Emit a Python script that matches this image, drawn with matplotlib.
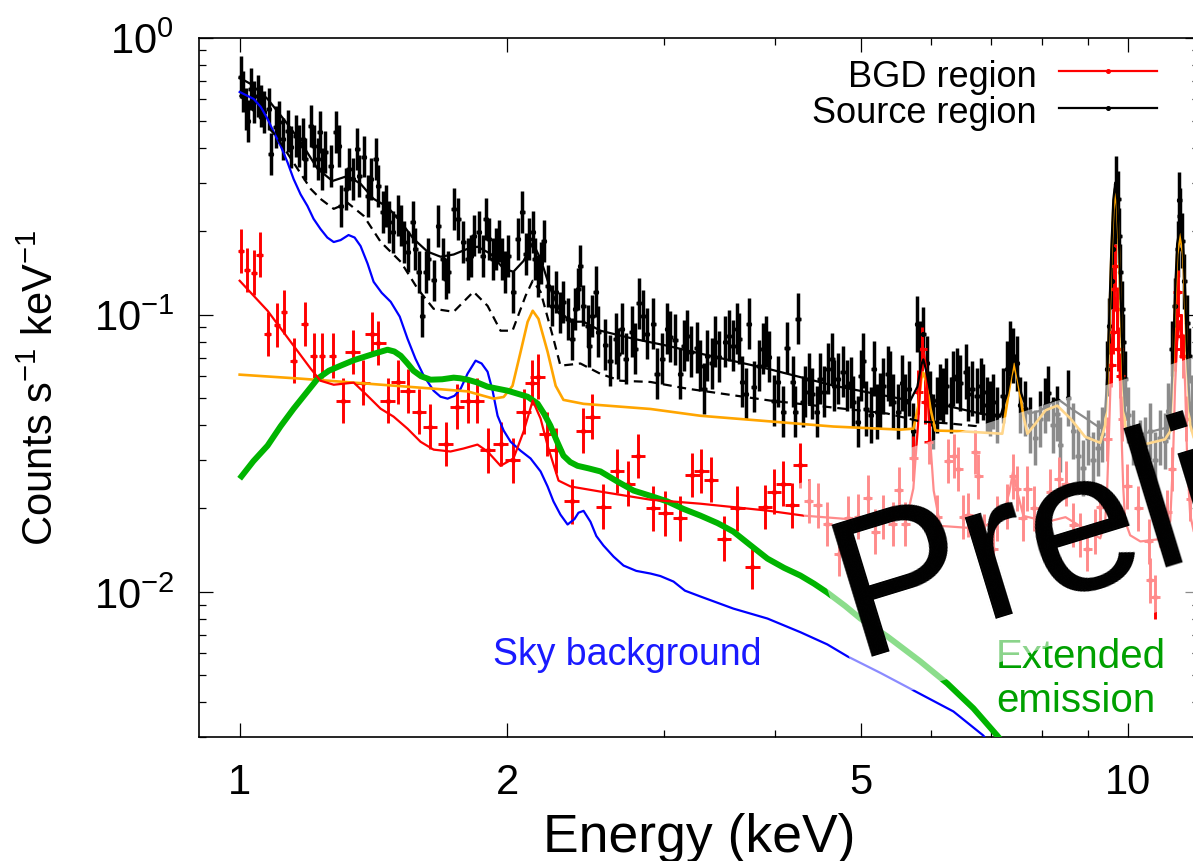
import numpy as np
import matplotlib
matplotlib.use("Agg")
import matplotlib.pyplot as plt
from matplotlib.patches import Polygon
from matplotlib.lines import Line2D
from matplotlib.ticker import FixedLocator, FixedFormatter, NullFormatter

plt.rcParams['font.family'] = ['Liberation Sans', 'DejaVu Sans']
plt.rcParams['mathtext.fontset'] = 'custom'
plt.rcParams['mathtext.rm'] = 'Liberation Sans'
plt.rcParams['mathtext.it'] = 'Liberation Sans:italic'
plt.rcParams['mathtext.bf'] = 'Liberation Sans:bold'

# ---------------- data (energy in keV, counts s^-1 keV^-1) ----------------
src_E = [1.003, 1.008, 1.016, 1.021, 1.029, 1.037, 1.048, 1.056, 1.064, 1.078,
         1.084, 1.098, 1.106, 1.118, 1.132, 1.141, 1.156, 1.165, 1.177, 1.186,
         1.202, 1.211, 1.224, 1.230, 1.239, 1.249, 1.266, 1.282, 1.292, 1.299,
         1.316, 1.326, 1.340, 1.357, 1.363, 1.379, 1.393, 1.404, 1.422, 1.433,
         1.448, 1.460, 1.471, 1.487, 1.506, 1.518, 1.530, 1.545, 1.565, 1.577,
         1.590, 1.606, 1.619, 1.631, 1.653, 1.674, 1.692, 1.705, 1.718, 1.741,
         1.761, 1.786, 1.805, 1.819, 1.833, 1.857, 1.877, 1.891, 1.906, 1.926,
         1.941, 1.956, 1.976, 1.991, 2.007, 2.033, 2.055, 2.081, 2.098, 2.114,
         2.137, 2.148, 2.164, 2.181, 2.198, 2.221, 2.249, 2.268, 2.296, 2.314,
         2.339, 2.369, 2.387, 2.406, 2.418, 2.437, 2.463, 2.475, 2.495, 2.515,
         2.534, 2.58, 2.61, 2.65, 2.665, 2.691, 2.719, 2.762, 2.788, 2.811,
         2.847, 2.87, 2.92, 2.95, 2.99, 3.03, 3.053, 3.09, 3.133, 3.16,
         3.19, 3.22, 3.27, 3.30, 3.33, 3.36, 3.40, 3.43, 3.46, 3.52,
         3.55, 3.59, 3.63, 3.65, 3.68, 3.71, 3.74, 3.79, 3.84, 3.88,
         3.91, 3.94, 3.99, 4.03, 4.09, 4.13, 4.19, 4.22, 4.25, 4.30,
         4.33, 4.37, 4.41, 4.46, 4.50, 4.54, 4.59, 4.64, 4.67, 4.71,
         4.77, 4.83, 4.87, 4.90, 4.96, 5.00, 5.03, 5.07, 5.13, 5.17,
         5.22, 5.26, 5.30, 5.36, 5.40, 5.44, 5.51, 5.57, 5.61, 5.66,
         5.73, 5.79, 5.83, 5.88, 5.93, 5.99, 6.03, 6.10, 6.14, 6.19,
         6.24, 6.31, 6.35, 6.42, 6.47, 6.56, 6.61, 6.67, 6.76, 6.82,
         6.87, 6.93, 6.99, 7.05, 7.12, 7.22, 7.31, 7.37, 7.42, 7.49,
         7.56, 7.66, 7.76, 7.86, 7.96, 8.07, 8.13, 8.22, 8.32, 8.39,
         8.56, 8.67, 8.78, 8.89, 9.01, 9.13, 9.25, 9.35, 9.47, 9.52,
         9.60, 9.62, 9.67, 9.70, 9.74, 9.77, 9.80, 9.85, 9.87, 9.92,
         9.99, 10.12, 10.32, 10.45, 10.59, 10.72, 10.86, 11.01, 11.09, 11.20,
         11.29, 11.37, 11.42, 11.44, 11.50, 11.56, 11.65, 11.71, 11.80, 11.90]
src_C = [0.72, 0.64, 0.553, 0.50, 0.653, 0.586, 0.616, 0.567, 0.539, 0.553,
         0.381, 0.477, 0.497, 0.431, 0.461, 0.404, 0.442, 0.407, 0.431, 0.365,
         0.480, 0.407, 0.365, 0.457, 0.336, 0.387, 0.344, 0.457, 0.407, 0.247,
         0.285, 0.336, 0.309, 0.397, 0.317, 0.372, 0.268, 0.309, 0.365, 0.292,
         0.235, 0.247, 0.216, 0.199, 0.228, 0.210, 0.183, 0.169, 0.216, 0.173,
         0.143, 0.099, 0.143, 0.159, 0.133, 0.209, 0.159, 0.135, 0.143, 0.241,
         0.222, 0.183, 0.159, 0.163, 0.193, 0.199, 0.163, 0.222, 0.188, 0.159,
         0.173, 0.185, 0.159, 0.143, 0.163, 0.121, 0.188, 0.235, 0.166, 0.188,
         0.199, 0.159, 0.138, 0.154, 0.185, 0.127, 0.108, 0.121, 0.102, 0.111,
         0.0967, 0.0819, 0.105, 0.124, 0.150, 0.108, 0.0912, 0.0772, 0.0991, 0.121,
         0.0868, 0.078, 0.0683, 0.0819, 0.0722, 0.089, 0.0694, 0.0868, 0.0754, 0.110,
         0.0991, 0.0854, 0.0927, 0.0613, 0.0694, 0.089, 0.0833, 0.0811, 0.0613, 0.0772,
         0.0840, 0.0735, 0.0760, 0.0655, 0.0541, 0.0712, 0.0667, 0.0799, 0.0706, 0.0799,
         0.0840, 0.0772, 0.089, 0.0819, 0.0573, 0.0519, 0.0927, 0.0550, 0.0655, 0.0754,
         0.0799, 0.0706, 0.0490, 0.0573, 0.0447, 0.0760, 0.0573, 0.0447, 0.0967, 0.0486,
         0.0527, 0.0588, 0.0519, 0.0447, 0.0588, 0.0527, 0.0639, 0.0694, 0.0554, 0.0588,
         0.0623, 0.0554, 0.0568, 0.0486, 0.0411, 0.0603, 0.0683, 0.0458, 0.0434, 0.0639,
         0.0447, 0.0490, 0.0554, 0.0613, 0.0588, 0.0486, 0.0447, 0.0568, 0.0486, 0.0541,
         0.0382, 0.0927, 0.0754, 0.085, 0.0667, 0.0498, 0.0411, 0.0472, 0.0527, 0.0510,
         0.0554, 0.0472, 0.0588, 0.0603, 0.0568, 0.0623, 0.0519, 0.0541, 0.0510, 0.0554,
         0.0527, 0.0472, 0.0458, 0.0486, 0.0434, 0.0510, 0.0639, 0.0754, 0.0712, 0.0667,
         0.0472, 0.0458, 0.040, 0.036, 0.042, 0.047, 0.052, 0.040, 0.044, 0.034,
         0.050, 0.038, 0.031, 0.028, 0.036, 0.030, 0.033, 0.037, 0.0639, 0.0912,
         0.132, 0.173, 0.2275, 0.296, 0.262, 0.193, 0.143, 0.105, 0.080, 0.0588,
         0.0434, 0.036, 0.033, 0.034, 0.038, 0.030, 0.036, 0.035, 0.045, 0.0754,
         0.108, 0.173, 0.26, 0.2275, 0.185, 0.132, 0.0935, 0.0712, 0.048, 0.040]

bgd_E = [1.003, 1.019, 1.037, 1.053, 1.075, 1.101, 1.121, 1.150, 1.183, 1.211,
         1.239, 1.272, 1.306, 1.340, 1.375, 1.408, 1.433, 1.467, 1.506, 1.545,
         1.590, 1.636, 1.705, 1.757, 1.805, 1.848, 1.901, 1.966, 2.028, 2.087,
         2.131, 2.164, 2.215, 2.268, 2.363, 2.437, 2.495, 2.567, 2.661, 2.732,
         2.81, 2.92, 3.014, 3.133, 3.233, 3.309, 3.395, 3.511, 3.632, 3.776,
         3.905, 3.997, 4.092, 4.188, 4.276, 4.367, 4.47, 4.585, 4.72, 4.84,
         4.97, 5.09, 5.19, 5.30, 5.43, 5.52, 5.61, 5.731, 5.805, 5.864,
         5.91, 5.96, 6.10, 6.27, 6.36, 6.44, 6.52, 6.61, 6.73, 6.78,
         6.89, 7.05, 7.12, 7.31, 7.42, 7.49, 7.61, 7.70, 7.84, 8.00,
         8.17, 8.35, 8.50, 8.67, 8.83, 8.99, 9.18, 9.30, 9.47, 9.57,
         9.62, 9.64, 9.67, 9.72, 9.74, 9.80, 9.85, 9.97, 10.26, 10.54,
         10.59, 10.72, 10.86, 11.06, 11.20, 11.29, 11.35, 11.37, 11.47, 11.53,
         11.62, 11.74]
bgd_C = [0.170, 0.145, 0.142, 0.165, 0.0854, 0.092, 0.1025, 0.0683, 0.0927, 0.0712,
         0.0712, 0.0712, 0.049, 0.0735, 0.0569, 0.0854, 0.0792, 0.049, 0.0573, 0.0532,
         0.0447, 0.0395, 0.0342, 0.0466, 0.049, 0.049, 0.0324, 0.0342, 0.0298, 0.0447,
         0.0569, 0.0598, 0.0372, 0.0324, 0.0212, 0.0382, 0.0429, 0.0203, 0.0273, 0.0246,
         0.031, 0.020, 0.0192, 0.0184, 0.0264, 0.0273, 0.0254, 0.01557, 0.020, 0.01234,
         0.0202, 0.023, 0.0246, 0.0205, 0.0286, 0.0213, 0.0205, 0.0176, 0.01374, 0.0184,
         0.0187, 0.0219, 0.0165, 0.0186, 0.0176, 0.0234, 0.0176, 0.0303, 0.0527, 0.0754,
         0.0486, 0.0348, 0.0186, 0.0296, 0.031, 0.0278, 0.0186, 0.0189, 0.0319, 0.0261,
         0.0159, 0.01433, 0.0184, 0.0203, 0.0261, 0.0236, 0.0184, 0.0236, 0.020, 0.0172,
         0.023, 0.0256, 0.0246, 0.0174, 0.016, 0.01433, 0.0165, 0.0203, 0.0357, 0.066,
         0.087, 0.124, 0.150, 0.105, 0.0754, 0.0603, 0.0422, 0.024, 0.020, 0.0152,
         0.0110, 0.0096, 0.0174, 0.0194, 0.0278, 0.0754, 0.100, 0.121, 0.084, 0.071,
         0.0422, 0.0217]

# error-bar half sizes (dex), by energy band
src_err_band_top = [2.5, 5.0, 99.0]
src_err_band_dex = [0.075, 0.092, 0.1]
src_xerr_dex = 0.003
bgd_err_dex = 0.08
bgd_xerr_band_top = [1.3, 4.3, 99.0]
bgd_xerr_band_dex = [0.0035, 0.008, 0.005]

# model curves
src_model_E = [1.0, 1.029, 1.075, 1.132, 1.171, 1.224, 1.272, 1.323, 1.368, 1.415,
               1.467, 1.518, 1.569, 1.627, 1.683, 1.741, 1.805, 1.852, 1.916, 1.982,
               2.033, 2.087, 2.137, 2.181, 2.237, 2.296, 2.357, 2.438, 2.547, 2.775,
               3.029, 3.30, 3.926, 4.658, 5.54, 5.685, 5.79, 5.85, 5.88, 5.93,
               5.99, 6.098, 6.815, 7.178, 7.31, 7.44, 7.58, 7.72, 7.96, 8.32,
               8.61, 8.94, 9.30, 9.42, 9.47, 9.52, 9.57, 9.62, 9.67, 9.72,
               9.77, 9.82, 9.87, 9.92, 10.05, 10.32, 11.0, 11.15, 11.23, 11.29,
               11.35, 11.44, 11.53, 11.59, 11.65, 11.74, 11.85, 12.0]
src_model_C = [0.716, 0.681, 0.601, 0.488, 0.421, 0.336, 0.304, 0.317, 0.297, 0.262,
               0.245, 0.2165, 0.188, 0.169, 0.162, 0.165, 0.173, 0.176, 0.166, 0.1465,
               0.143, 0.1565, 0.182, 0.159, 0.124, 0.1025, 0.0944, 0.0944, 0.0876, 0.0819,
               0.0773, 0.0724, 0.0639, 0.0555, 0.0498, 0.049, 0.055, 0.066, 0.069, 0.062,
               0.052, 0.0478, 0.044, 0.0429, 0.052, 0.072, 0.052, 0.044, 0.045, 0.0498,
               0.046, 0.0425, 0.039, 0.045, 0.06, 0.10, 0.17, 0.26, 0.30, 0.26,
               0.17, 0.10, 0.06, 0.045, 0.039, 0.037, 0.039, 0.042, 0.07, 0.12,
               0.18, 0.21, 0.18, 0.12, 0.07, 0.045, 0.040, 0.039]

src_dash_E = [1.0, 1.1, 1.202, 1.233, 1.276, 1.323, 1.379, 1.441, 1.518, 1.586,
              1.653, 1.741, 1.833, 1.901, 1.966, 2.028, 2.098, 2.137, 2.181, 2.255,
              2.296, 2.418, 2.547, 2.683, 2.90, 3.19, 3.956, 5.357, 5.834, 6.3, 6.815]
src_dash_C = [0.62, 0.44, 0.2847, 0.262, 0.2411, 0.2534, 0.2275, 0.1833, 0.1553, 0.1241,
              0.1051, 0.1025, 0.1211, 0.1077, 0.0876, 0.0876, 0.1171, 0.1327, 0.1211, 0.0819,
              0.0655, 0.0667, 0.0612, 0.0578, 0.0572, 0.0541, 0.049, 0.044, 0.0412, 0.0405, 0.0395]

bgd_model_E = [1.0, 1.075, 1.150, 1.202, 1.233, 1.276, 1.344, 1.393, 1.441, 1.490,
               1.545, 1.598, 1.653, 1.727, 1.786, 1.852, 1.901, 1.966, 2.033, 2.087,
               2.137, 2.181, 2.221, 2.285, 2.357, 2.547, 2.90, 3.30, 3.926, 4.310,
               5.26, 5.64, 5.73, 5.80, 5.85, 5.88, 5.92, 5.97, 6.04, 6.144,
               6.815, 7.23, 7.35, 7.42, 7.50, 7.62, 8.11, 8.50, 8.9, 9.30,
               9.42, 9.47, 9.52, 9.57, 9.62, 9.67, 9.72, 9.77, 9.82, 9.87,
               9.92, 10.05, 10.32, 10.86, 11.15, 11.23, 11.29, 11.35, 11.44, 11.53,
               11.59, 11.65, 11.74, 11.85, 12.0]
bgd_model_C = [0.1327, 0.1034, 0.0773, 0.0639, 0.0578, 0.0559, 0.0569, 0.0510, 0.0458, 0.0429,
               0.0388, 0.0348, 0.0326, 0.0321, 0.0329, 0.0340, 0.0321, 0.0285, 0.0303, 0.0379,
               0.0490, 0.0422, 0.0337, 0.0252, 0.0240, 0.0230, 0.0215, 0.0208, 0.01964, 0.01884,
               0.01793, 0.0188, 0.0236, 0.040, 0.065, 0.075, 0.065, 0.040, 0.0232, 0.0173,
               0.0169, 0.0188, 0.023, 0.0272, 0.023, 0.0188, 0.0179, 0.0186, 0.0170, 0.0156,
               0.018, 0.024, 0.04, 0.07, 0.10, 0.115, 0.10, 0.07, 0.04, 0.024,
               0.018, 0.016, 0.0152, 0.0155, 0.018, 0.03, 0.055, 0.08, 0.095, 0.08,
               0.055, 0.03, 0.019, 0.0165, 0.016]

sky_E = [1.0, 1.037, 1.056, 1.075, 1.092, 1.112, 1.132, 1.150, 1.171, 1.192,
         1.211, 1.233, 1.255, 1.276, 1.299, 1.326, 1.347, 1.368, 1.393, 1.415,
         1.445, 1.479, 1.514, 1.545, 1.577, 1.611, 1.653, 1.683, 1.714, 1.745,
         1.773, 1.805, 1.843, 1.872, 1.901, 1.926, 1.951, 1.982, 2.018, 2.071,
         2.125, 2.181, 2.221, 2.255, 2.296, 2.339, 2.381, 2.406, 2.438, 2.482,
         2.52, 2.567, 2.635, 2.704, 2.795, 2.90, 2.975, 3.078, 3.17, 3.30,
         3.594, 3.926, 4.276, 4.585, 4.83, 5.26, 5.731, 6.357, 6.869, 7.0]
sky_C = [0.637, 0.601, 0.563, 0.509, 0.457, 0.407, 0.355, 0.309, 0.272, 0.247,
         0.222, 0.204, 0.190, 0.183, 0.186, 0.194, 0.190, 0.177, 0.153, 0.1315,
         0.120, 0.1114, 0.0985, 0.0819, 0.0694, 0.0603, 0.0532, 0.0506, 0.0498, 0.051,
         0.0541, 0.0613, 0.0683, 0.0667, 0.0623, 0.0532, 0.0432, 0.0382, 0.0348, 0.0323,
         0.0303, 0.0272, 0.0240, 0.0212, 0.0190, 0.0175, 0.0183, 0.0193, 0.0196, 0.0179,
         0.0159, 0.01469, 0.0134, 0.01244, 0.0119, 0.01164, 0.0114, 0.01089, 0.0101, 0.00962,
         0.0087, 0.00801, 0.00715, 0.00646, 0.00585, 0.0051, 0.00441, 0.00370, 0.00303, 0.0028]

ext_E = [1.0, 1.036, 1.075, 1.112, 1.150, 1.187, 1.224, 1.26, 1.299, 1.345,
         1.393, 1.43, 1.467, 1.493, 1.518, 1.545, 1.569, 1.60, 1.640, 1.69,
         1.741, 1.77, 1.805, 1.85, 1.901, 2.002, 2.109, 2.164, 2.20, 2.237,
         2.275, 2.314, 2.355, 2.400, 2.47, 2.547, 2.662, 2.775, 2.90, 3.029,
         3.16, 3.30, 3.45, 3.594, 3.75, 3.926, 4.10, 4.276, 4.43, 4.585,
         4.80, 4.995, 5.357, 5.834, 6.257, 6.694, 7.12, 7.4]
ext_C = [0.0256, 0.0296, 0.0337, 0.0396, 0.0458, 0.0520, 0.0588, 0.0628, 0.0655, 0.0686,
         0.0711, 0.0730, 0.0748, 0.0737, 0.0711, 0.0667, 0.0628, 0.0600, 0.0583, 0.0585,
         0.0593, 0.0590, 0.0583, 0.0570, 0.0550, 0.0532, 0.0506, 0.0478, 0.0440, 0.0398,
         0.0350, 0.0310, 0.0294, 0.0285, 0.0279, 0.0272, 0.0250, 0.0232, 0.0222, 0.0212,
         0.0199, 0.01884, 0.0177, 0.01650, 0.0148, 0.01318, 0.0122, 0.01145, 0.0107, 0.00994,
         0.0089, 0.00801, 0.00690, 0.00561, 0.00467, 0.00380, 0.00303, 0.0026]

nxb_E = [1.0, 1.171, 1.393, 1.653, 1.805, 1.931, 1.982, 2.028, 2.071, 2.109,
         2.137, 2.169, 2.221, 2.268, 2.314, 2.438, 2.90, 3.30, 4.658, 5.54,
         5.731, 5.805, 5.85, 5.88, 5.925, 5.99, 6.066, 6.47, 7.215, 7.31,
         7.386, 7.44, 7.52, 7.62, 7.70, 7.86, 8.07, 8.32, 8.61, 8.94,
         9.30, 9.42, 9.47, 9.52, 9.57, 9.62, 9.67, 9.72, 9.77, 9.82,
         9.87, 9.92, 10.05, 10.32, 11.0, 11.15, 11.23, 11.29, 11.35, 11.44,
         11.53, 11.59, 11.65, 11.74, 11.85, 12.0]
nxb_C = [0.0608, 0.0588, 0.0564, 0.0541, 0.0529, 0.0498, 0.0505, 0.0554, 0.0735, 0.0943,
         0.1034, 0.0967, 0.0735, 0.0554, 0.0493, 0.0477, 0.0457, 0.0432, 0.0395, 0.0385,
         0.0388, 0.0470, 0.0588, 0.0618, 0.0573, 0.0458, 0.0382, 0.0380, 0.0372, 0.0486,
         0.0602, 0.0665, 0.0573, 0.0432, 0.0372, 0.0404, 0.0452, 0.0470, 0.0422, 0.0363,
         0.0345, 0.040, 0.055, 0.09, 0.16, 0.24, 0.285, 0.24, 0.16, 0.09,
         0.055, 0.040, 0.0345, 0.0338, 0.0355, 0.038, 0.065, 0.11, 0.165, 0.196,
         0.165, 0.11, 0.065, 0.040, 0.036, 0.0355]

x_major = [1, 2, 5, 10]
x_major_labels = ['1', '2', '5', '10']
x_minor = [3, 4, 6, 7, 8, 9]
y_major = [0.01, 0.1, 1.0]
y_major_labels = [r'$\mathregular{10^{-2}}$', r'$\mathregular{10^{-1}}$', r'$\mathregular{10^{0}}$']

# ---------------- figure ----------------
W, H = 1193, 862
fig = plt.figure(figsize=(W / 100, H / 100), dpi=100)
ax = fig.add_axes([199 / W, 1 - 737.7 / H, (1198.6 - 199) / W, (737.7 - 38.7) / H])
ax.set_xscale('log')
ax.set_yscale('log')
ax.set_xlim(0.9, 12)
ax.set_ylim(0.003, 1)


def band(E, tops, vals):
    return np.array([vals[int(np.searchsorted(tops, e))] for e in E])


def draw_data(E, C, ydex, xdex, color, elw):
    E = np.asarray(E)
    C = np.asarray(C)
    ax.errorbar(E, C,
                yerr=[C * (1 - 10 ** -ydex), C * (10 ** ydex - 1)],
                xerr=[E * (1 - 10 ** -xdex), E * (10 ** xdex - 1)],
                fmt='o', ms=2.8, color=color, ecolor=color, elinewidth=elw,
                capsize=0, zorder=3)


draw_data(src_E, src_C, band(src_E, src_err_band_top, src_err_band_dex), src_xerr_dex, 'black', 2.5)
draw_data(bgd_E, bgd_C, bgd_err_dex, band(bgd_E, bgd_xerr_band_top, bgd_xerr_band_dex), '#ff0000', 2.1)

ax.plot(sky_E, sky_C, color='#0000ff', lw=1.6, zorder=4)
ax.plot(nxb_E, nxb_C, color='#ffa500', lw=1.9, zorder=4)
ax.plot(ext_E, ext_C, color='#00b400', lw=4.3, zorder=4, solid_capstyle='butt')
ax.plot(bgd_model_E, bgd_model_C, color='#ff0000', lw=1.6, zorder=5)
ax.plot(src_dash_E, src_dash_C, color='black', lw=1.6, ls=(0, (4, 2.6)), zorder=5)
ax.plot(src_model_E, src_model_C, color='black', lw=1.6, zorder=5)

# ticks
ax.xaxis.set_major_locator(FixedLocator(x_major))
ax.xaxis.set_major_formatter(FixedFormatter(x_major_labels))
ax.xaxis.set_minor_locator(FixedLocator(x_minor))
ax.xaxis.set_minor_formatter(NullFormatter())
ax.yaxis.set_major_locator(FixedLocator(y_major))
ax.yaxis.set_major_formatter(FixedFormatter(y_major_labels))
ax.yaxis.set_minor_locator(FixedLocator([k * 10.0 ** e for e in (-3, -2, -1) for k in range(2, 10)
                                         if k * 10.0 ** e >= 0.003]))
ax.yaxis.set_minor_formatter(NullFormatter())
ax.tick_params(which='both', direction='in', top=True, right=True, width=0.9, color='black')
ax.tick_params(which='major', length=10, labelsize=30, pad=18)
ax.tick_params(which='minor', length=5)
for sp in ax.spines.values():
    sp.set_linewidth(1.2)

ax.set_xlabel('Energy (keV)', fontsize=38.5)
ax.xaxis.set_label_coords(0.5, -0.1077)
ax.set_ylabel(r'Counts s$^{\mathregular{-1}}$ keV$^{\mathregular{-1}}$', fontsize=30)
ax.yaxis.set_label_coords(-0.137, 0.5)

# annotations
fig.text(493 / W, 1 - 665 / H, 'Sky background', color='#1a1aff', fontsize=27, zorder=1.5)
fig.text(996 / W, 1 - 668 / H, 'Extended', color='#00a000', fontsize=29, zorder=1.5)
fig.text(996 / W, 1 - 712 / H, 'emission', color='#00a000', fontsize=29, zorder=1.5)

# legend (drawn manually to match layout)
for lab, col, ytxt, yln in [('BGD region', '#ff0000', 86.7, 72.3), ('Source region', 'black', 123.3, 109.3)]:
    fig.text(1037 / W, 1 - ytxt / H, lab, ha='right', va='baseline', fontsize=26, zorder=4)
    fig.add_artist(Line2D([1059 / W, 1157 / W], [1 - yln / H] * 2, color=col, lw=1.6,
                          transform=fig.transFigure, zorder=4))
    fig.add_artist(Line2D([1108 / W], [1 - yln / H], color=col, marker='o', ms=2.6,
                          transform=fig.transFigure, zorder=4))

# "Preliminary" watermark with translucent band
poly = Polygon([(794 / W, 1 - 486 / H), (864.6 / W, 1 - 706.5 / H),
                (1300 / W, 1 - 567.2 / H), (1300 / W, 1 - 324.1 / H)],
               closed=True, transform=fig.transFigure, facecolor='white',
               edgecolor='none', alpha=0.55, zorder=2)
fig.add_artist(poly)
fig.text(855 / W, 1 - 657 / H, 'Preliminary', fontsize=144, rotation=17,
         rotation_mode='anchor', ha='left', va='baseline', color='black', zorder=3)

fig.savefig('out.png', dpi=100)
